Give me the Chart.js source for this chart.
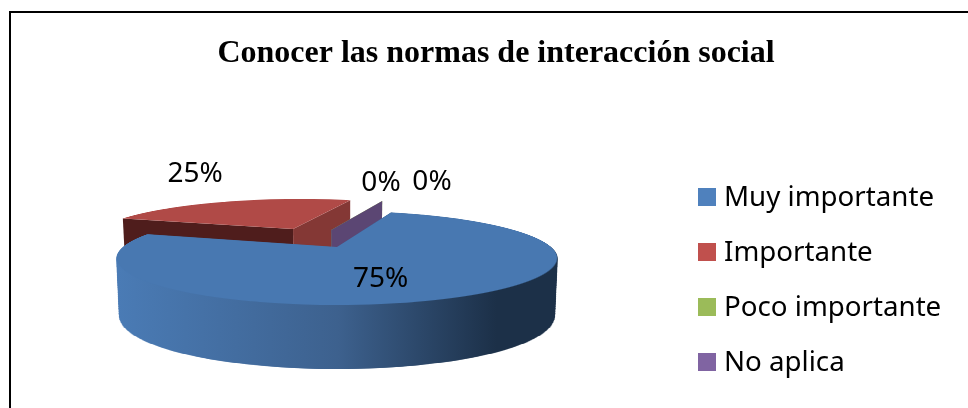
<!DOCTYPE html>
<html>
<head>
<meta charset="utf-8">
<title>Conocer las normas de interacción social</title>
<script src="https://cdn.jsdelivr.net/npm/chart.js@4"></script>
<style>
    html, body { margin: 0; padding: 0; background: #fff; overflow: hidden; }
    #box { position: relative; width: 968px; height: 408px; }
    #frame { position: absolute; left: 9px; top: 11px; right: 0; bottom: 0;
             border-left: 2px solid #000; border-top: 2px solid #000; }
    canvas { position: absolute; left: 0; top: 0; }
</style>
</head>
<body>
<div id="box">
    <div id="frame"></div>
    <canvas id="chart" width="968" height="408"></canvas>
</div>
<script>
const titleText = "Conocer las normas de interacción social";
const categories = ["Muy importante", "Importante", "Poco importante", "No aplica"];
const values = [75, 25, 0, 0];
const legendColors = ["#4f81bd", "#c0504d", "#9bbb59", "#8064a2"];
const faceColors = ["#4878b1", "#b04a47", "#8fab52", "#5b4673"];

// perspective of the pie disc, fitted on the picture
const cx = 337, discR = 214;
const pa = -13.4, pb = 247, pc = -0.234;
const depth = (v) => 56 + 8 * v;

const rowToV = (y) => (y - pb) / (pa - pc * y);
const project = (u, v, z) => {
    const w = 1 + pc * v;
    return [cx + discR * u / w * (1 - 0.012 * z), (pa * v + pb) / w + z * depth(v)];
};

// draws the library's arc one pixel row at a time, each row with its own scale
const drawDisc = (ctx, arc, du, dv, z, rowHeight) => {
    const R = arc.outerRadius;
    for (let y = 185; y < 307; y++) {
        const v0 = rowToV(y + 0.5);
        const w = 1 + pc * v0;
        const sx = discR / w * (1 - 0.012 * z);
        const sy = (pa - pb * pc) / (w * w);
        const rowY = y + Math.round(z * depth(v0));
        ctx.save();
        ctx.beginPath();
        ctx.rect(0, rowY, 968, rowHeight);
        ctx.clip();
        ctx.transform(sx / R, 0, 0, sy / R,
            cx + sx * (du - arc.x / R),
            y + 0.5 + z * depth(v0) + sy * (dv - arc.y / R - v0));
        arc.draw(ctx);
        ctx.restore();
    }
};

const drawWallQuad = (ctx, a, b, color) => {
    const p = [project(a[0], a[1], 0), project(b[0], b[1], 0), project(b[0], b[1], 1), project(a[0], a[1], 1)];
    ctx.fillStyle = color;
    ctx.beginPath();
    p.forEach((q) => ctx.lineTo(q[0], q[1]));
    ctx.closePath();
    ctx.fill();
};

const pie3d = {
    id: "pie3d",
    beforeDatasetsDraw(chart) {
        const ctx = chart.ctx;
        const arcs = chart.getDatasetMeta(0).data;
        const [blue, red, green, purple] = arcs;

        // pulled out slices behind the big one
        const redDu = -0.227, redDv = -0.448;
        const rim = (angle, du, dv) => [Math.cos(angle) + du, Math.sin(angle) + dv];
        drawWallQuad(ctx, [redDu, redDv], rim(red.startAngle, redDu, redDv), "#4f1d1c");
        drawWallQuad(ctx, [redDu, redDv], rim(red.endAngle, redDu, redDv), "#843835");
        drawDisc(ctx, red, redDu, redDv, 0, 1);

        const zeroDu = -0.03, zeroDv = -0.42;
        drawWallQuad(ctx, [zeroDu, zeroDv], rim(green.startAngle, zeroDu, zeroDv), faceColors[2]);
        drawWallQuad(ctx, [zeroDu, zeroDv], rim(purple.startAngle, zeroDu, zeroDv), faceColors[3]);

        // side of the big slice, stacked on its own layer and shaded left to right
        const layer = document.createElement("canvas");
        layer.width = 968;
        layer.height = 408;
        const lctx = layer.getContext("2d");
        for (let i = 128; i > 0; i--) {
            drawDisc(lctx, blue, 0, 0, i / 128, 2);
        }
        const shade = lctx.createLinearGradient(118, 0, 558, 0);
        shade.addColorStop(0, "#4a7bb5");
        shade.addColorStop(0.5, "#3d618e");
        shade.addColorStop(0.86, "#1c3048");
        shade.addColorStop(1, "#1c3048");
        lctx.globalCompositeOperation = "source-in";
        lctx.fillStyle = shade;
        lctx.fillRect(0, 0, 968, 408);
        ctx.drawImage(layer, 0, 0);

        drawDisc(ctx, blue, 0, 0, 0, 1);

        // percent labels
        const nudges = [[-23, 5], [-55, -37], [9, -42], [60, -43]];
        const offsets = [[0, 0], [redDu, redDv], [0, 0], [0, 0]];
        ctx.font = "28px 'Noto Sans'";
        ctx.fillStyle = "#000";
        ctx.textAlign = "center";
        ctx.textBaseline = "middle";
        arcs.forEach((arc, i) => {
            const mid = (arc.startAngle + arc.endAngle) / 2;
            const p = project(0.6 * Math.cos(mid) + offsets[i][0], 0.6 * Math.sin(mid) + offsets[i][1], 0);
            ctx.fillText(values[i] + "%", p[0] + nudges[i][0], p[1] + nudges[i][1]);
        });

        // legend
        ctx.font = "27.7px 'Noto Sans'";
        ctx.textAlign = "left";
        categories.forEach((name, i) => {
            const y = 197 + i * 55;
            ctx.fillStyle = legendColors[i];
            ctx.fillRect(698, y - 9, 18, 18);
            ctx.fillStyle = "#000";
            ctx.fillText(name, 724, y + 1);
        });
        return false;
    },
};

new Chart(document.getElementById("chart"), {
    type: "pie",
    data: {
        labels: categories,
        datasets: [
            {
                data: values,
                backgroundColor: faceColors,
                borderWidth: 0,
            },
        ],
    },
    options: {
        responsive: false,
        animation: false,
        rotation: 18,
        layout: { padding: { left: 24, top: 35, bottom: 40, right: 0 } },
        plugins: {
            legend: { display: false },
            tooltip: { enabled: false },
            title: {
                display: true,
                text: titleText,
                color: "#000",
                font: { family: "'Liberation Serif'", size: 32, weight: "bold" },
                padding: 0,
            },
        },
    },
    plugins: [pie3d],
});
</script>
</body>
</html>
